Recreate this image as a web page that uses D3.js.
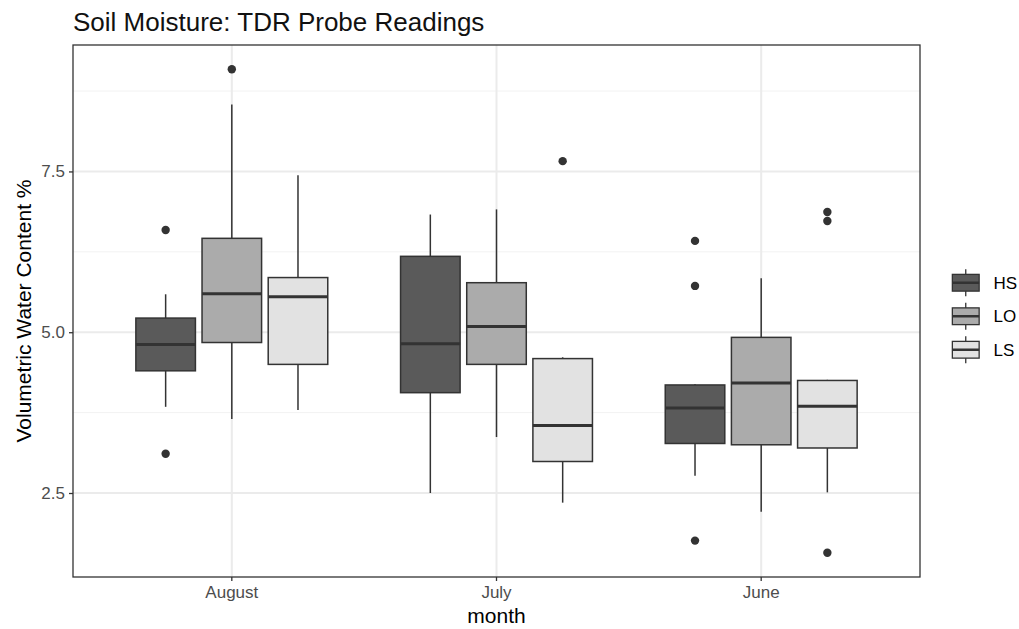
<!DOCTYPE html>
<html>
<head>
<meta charset="utf-8">
<script src="https://cdn.jsdelivr.net/npm/d3@7"></script>
<style>
  body { margin: 0; background: #fff; }
  svg text { font-family: "Liberation Sans", Arial, Helvetica, sans-serif; }
</style>
</head>
<body>
<div id="chart"></div>
<script>
// data
var months = ["August", "July", "June"];
var sites = ["HS", "LO", "LS"];
var siteFill = ["#5a5a5a", "#ababab", "#e2e2e2"];
var yTicks = [2.5, 5.0, 7.5];
var yMinor = [3.75, 6.25, 8.75];

// one row per site, one column per month
var whiskerLow  = [[3.84, 2.50, 2.77], [3.65, 3.37, 2.21], [3.79, 2.35, 2.51]];
var quart1      = [[4.40, 4.06, 3.27], [4.84, 4.50, 3.25], [4.50, 2.99, 3.20]];
var medians     = [[4.81, 4.82, 3.82], [5.60, 5.09, 4.21], [5.55, 3.55, 3.85]];
var quart3      = [[5.22, 6.18, 4.18], [6.46, 5.77, 4.92], [5.85, 4.59, 4.25]];
var whiskerHigh = [[5.59, 6.83, 4.19], [8.54, 6.91, 5.84], [7.44, 4.61, 4.26]];
var outliersHS = [[6.59, 3.11], [], [6.42, 5.72, 1.76]];
var outliersLO = [[9.09], [], []];
var outliersLS = [[], [7.66], [6.87, 6.73, 1.57]];
var outliers = [outliersHS, outliersLO, outliersLS];

var W = 1019, H = 629;
var panel = {left: 73, top: 45, right: 920, bottom: 577};
var pw = panel.right - panel.left, ph = panel.bottom - panel.top;

var svg = d3.select("#chart").append("svg")
    .attr("width", W).attr("height", H);

// build boxes
var boxes = [];
sites.forEach(function(s, si) {
    months.forEach(function(m, mi) {
        boxes.push({site: s, si: si, month: m,
            lo: whiskerLow[si][mi], q1: quart1[si][mi], med: medians[si][mi],
            q3: quart3[si][mi], hi: whiskerHigh[si][mi], out: outliers[si][mi]});
    });
});
var allVals = [];
boxes.forEach(function(b) { allVals.push(b.lo, b.hi); b.out.forEach(function(v) { allVals.push(v); }); });
var ext = d3.extent(allVals);
var pad = (ext[1] - ext[0]) * 0.05;

var x = d3.scaleBand().domain(months).range([panel.left, panel.right])
    .paddingInner(0).paddingOuter(0.1);
var bw = x.bandwidth();
var y = d3.scaleLinear().domain([ext[0] - pad, ext[1] + pad]).range([panel.bottom, panel.top]);

function inner(m) {
    var c = x(m) + bw / 2;
    return d3.scaleBand().domain(sites).range([c - 0.375 * bw, c + 0.375 * bw])
        .paddingInner(0.1).paddingOuter(0.05);
}

var g = svg.append("g");

// grid
g.selectAll(".minor").data(yMinor).enter().append("line")
    .attr("x1", panel.left).attr("x2", panel.right)
    .attr("y1", function(d) { return y(d); }).attr("y2", function(d) { return y(d); })
    .attr("stroke", "#f2f2f2").attr("stroke-width", 1);
g.selectAll(".major").data(yTicks).enter().append("line")
    .attr("x1", panel.left).attr("x2", panel.right)
    .attr("y1", function(d) { return y(d); }).attr("y2", function(d) { return y(d); })
    .attr("stroke", "#ebebeb").attr("stroke-width", 2);
g.selectAll(".vmajor").data(months).enter().append("line")
    .attr("y1", panel.top).attr("y2", panel.bottom)
    .attr("x1", function(d) { return x(d) + bw / 2; }).attr("x2", function(d) { return x(d) + bw / 2; })
    .attr("stroke", "#ebebeb").attr("stroke-width", 2);

// boxes
var bg = g.selectAll(".box").data(boxes).enter().append("g").attr("class", "box");
bg.each(function(b) {
    var sc = inner(b.month);
    var x0 = sc(b.site), w = sc.bandwidth(), cx = x0 + w / 2;
    var el = d3.select(this);
    el.append("line").attr("x1", cx).attr("x2", cx).attr("y1", y(b.hi)).attr("y2", y(b.q3))
        .attr("stroke", "#333").attr("stroke-width", 1.5);
    el.append("line").attr("x1", cx).attr("x2", cx).attr("y1", y(b.q1)).attr("y2", y(b.lo))
        .attr("stroke", "#333").attr("stroke-width", 1.5);
    el.append("rect").attr("x", x0).attr("width", w)
        .attr("y", y(b.q3)).attr("height", y(b.q1) - y(b.q3))
        .attr("fill", siteFill[b.si]).attr("stroke", "#333").attr("stroke-width", 1.5);
    el.append("line").attr("x1", x0).attr("x2", x0 + w).attr("y1", y(b.med)).attr("y2", y(b.med))
        .attr("stroke", "#333").attr("stroke-width", 3);
    el.selectAll("circle").data(b.out).enter().append("circle")
        .attr("cx", cx).attr("cy", function(d) { return y(d); }).attr("r", 4.2)
        .attr("fill", "#333");
});

// panel border
g.append("rect").attr("x", panel.left).attr("y", panel.top).attr("width", pw).attr("height", ph)
    .attr("fill", "none").attr("stroke", "#333").attr("stroke-width", 1.3);

// axes
var yAxis = d3.axisLeft(y).tickValues(yTicks).tickFormat(d3.format(".1f")).tickSize(4).tickPadding(4);
var ya = svg.append("g").attr("transform", "translate(" + panel.left + ",0)").call(yAxis);
var xAxis = d3.axisBottom(x).tickSize(4).tickPadding(5);
var xa = svg.append("g").attr("transform", "translate(0," + panel.bottom + ")").call(xAxis);
[ya, xa].forEach(function(a) {
    a.select(".domain").remove();
    a.selectAll(".tick line").attr("stroke", "#333").attr("stroke-width", 1.3);
    a.selectAll(".tick text").attr("fill", "#4d4d4d").style("font-size", "17px");
});

// titles
svg.append("text").attr("x", panel.left).attr("y", 31)
    .style("font-size", "26px").attr("fill", "#111")
    .text("Soil Moisture: TDR Probe Readings");
svg.append("text").attr("x", (panel.left + panel.right) / 2).attr("y", 623)
    .attr("text-anchor", "middle").style("font-size", "21px").attr("fill", "#000")
    .text("month");
svg.append("text").attr("transform", "translate(31," + (panel.top + ph / 2) + ")rotate(-90)")
    .attr("text-anchor", "middle").style("font-size", "21px").attr("fill", "#000")
    .text("Volumetric Water Content %");

// legend
var leg = svg.append("g").attr("transform", "translate(949,266)");
var cell = 33.5;
sites.forEach(function(s, i) {
    var k = leg.append("g").attr("transform", "translate(0," + (i * cell) + ")");
    var cx = cell / 2;
    k.append("line").attr("x1", cx).attr("x2", cx).attr("y1", cell * 0.1).attr("y2", cell * 0.9)
        .attr("stroke", "#333").attr("stroke-width", 1.3);
    k.append("rect").attr("x", cell * 0.1).attr("y", cell * 0.25).attr("width", cell * 0.8).attr("height", cell * 0.5)
        .attr("fill", siteFill[i]).attr("stroke", "#333").attr("stroke-width", 1.3);
    k.append("line").attr("x1", cell * 0.1).attr("x2", cell * 0.9).attr("y1", cell / 2).attr("y2", cell / 2)
        .attr("stroke", "#333").attr("stroke-width", 2.5);
    k.append("text").attr("x", cell + 11).attr("y", cell / 2).attr("dy", "0.35em")
        .style("font-size", "17px").attr("fill", "#000").text(s);
});
</script>
</body>
</html>
